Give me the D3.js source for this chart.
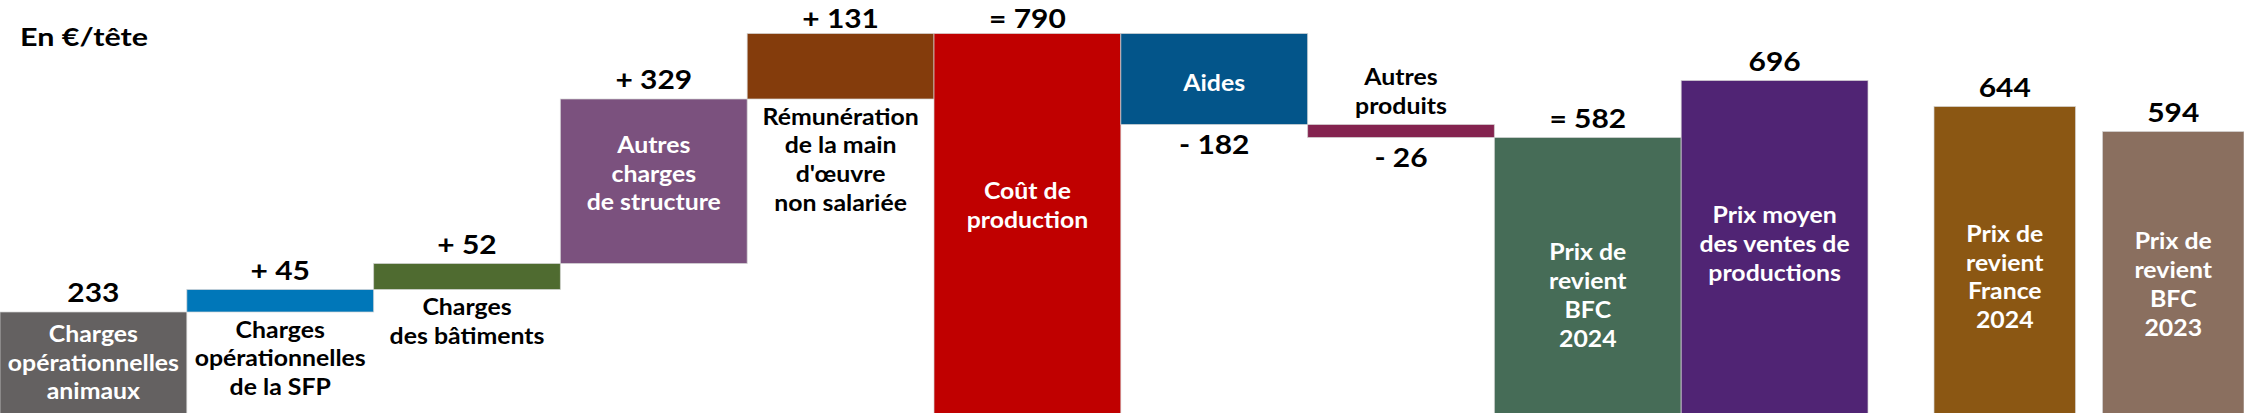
<!DOCTYPE html>
<html><head><meta charset="utf-8">
<script src="https://cdn.jsdelivr.net/npm/d3@7"></script>
<style>html,body{margin:0;padding:0;background:#fff;overflow:hidden}</style>
</head><body><svg id="chart" width="2244" height="413"></svg>
<script>
// ---- data ----
const categories = [
  "Charges opérationnelles animaux",
  "Charges opérationnelles de la SFP",
  "Charges des bâtiments",
  "Autres charges de structure",
  "Rémunération de la main d'œuvre non salariée",
  "Coût de production",
  "Aides",
  "Autres produits",
  "Prix de revient BFC 2024",
  "Prix moyen des ventes de productions"
];
const values = [233, 45, 52, 329, 131, 790, -182, -26, 582, 696];
const kinds = ["total","delta","delta","delta","delta","total","delta","delta","total","total"];
const valueLabels = ["233","+ 45","+ 52","+ 329","+ 131","= 790","- 182","- 26","= 582","696"];
const categoryLines = [
  ["Charges","opérationnelles","animaux"],
  ["Charges","opérationnelles","de la SFP"],
  ["Charges","des bâtiments"],
  ["Autres","charges","de structure"],
  ["Rémunération","de la main","d'œuvre","non salariée"],
  ["Coût de","production"],
  ["Aides"],
  ["Autres","produits"],
  ["Prix de","revient","BFC","2024"],
  ["Prix moyen","des ventes de","productions"]
];
const comparisonCategories = ["Prix de revient France 2024","Prix de revient BFC 2023"];
const comparisonValues = [644, 594];
const comparisonValueLabels = ["644","594"];
const comparisonLines = [["Prix de","revient","France","2024"],["Prix de","revient","BFC","2023"]];
const unitLabel = "En €/tête";

// ---- style / layout ----
const colors = ["#646161","#0077B9","#4F6B30","#7B517E","#843C0C","#C00000","#03558A","#84234F","#466C57","#502474"];
const comparisonColors = ["#8B5713","#8A6F5F"];
const labelPlacement = ["inside","below","below","inside","below","inside","inside","above","inside","inside"];
const insideNudge = [0,0,0,-8,0,-18,4,0,20,-3];
const comparisonNudge = [17,12];

const W = 2244, H = 413;
const FONT = "Lato, 'Open Sans', sans-serif";
const valueSize = 26.5, valueSx = 1.13;
const labelSize = 23, labelSx = 1.08, lineH = 28.7;
const titleSize = 25, titleSx = 1.22;

const svg = d3.select("#chart");

const y = d3.scaleLinear().domain([0, 790]).range([428.5, 33.5]);
const x = d3.scaleBand().domain(categories).range([0, 1868]).paddingInner(0).paddingOuter(0);
const x2 = d3.scaleBand().domain(comparisonCategories).range([1934, 2244]).paddingInner(0.16).paddingOuter(0);

let running = 0;
const bars = categories.map((c, i) => {
  let a, b;
  if (kinds[i] === "total") { a = 0; b = values[i]; running = values[i]; }
  else { a = running; b = running + values[i]; running = b; }
  return {c, i, lo: Math.min(a,b), hi: Math.max(a,b), neg: values[i] < 0,
          x: x(c), w: x.bandwidth(), color: colors[i], vlabel: valueLabels[i],
          lines: categoryLines[i], place: labelPlacement[i], nudge: insideNudge[i]};
});
comparisonCategories.forEach((c, j) => {
  bars.push({c, i: bars.length, lo: 0, hi: comparisonValues[j], neg: false,
    x: x2(c), w: x2.bandwidth(), color: comparisonColors[j], vlabel: comparisonValueLabels[j],
    lines: comparisonLines[j], place: "inside", nudge: comparisonNudge[j]});
});

svg.selectAll("rect.bar").data(bars).join("rect")
  .attr("class","bar")
  .attr("x", d => d.x).attr("width", d => d.w)
  .attr("y", d => y(d.hi)).attr("height", d => y(d.lo) - y(d.hi))
  .attr("fill", d => d.color)
  .attr("stroke", "#d6d6d6").attr("stroke-width", 1).attr("stroke-opacity", 0.7);

function addText(str, cx, by, size, sx, fill, anchor) {
  svg.append("text")
    .attr("transform", `translate(${cx},${by}) scale(${sx},1)`)
    .attr("x", 0).attr("y", 0)
    .attr("font-family", FONT).attr("font-weight", 700)
    .attr("font-size", size).attr("fill", fill)
    .attr("text-anchor", anchor || "middle")
    .text(str);
}

// value labels
bars.forEach(d => {
  const by = d.neg ? y(d.lo) + 29 : Math.max(y(d.hi) - 10, 28);
  addText(d.vlabel, d.x + d.w/2, by, valueSize, valueSx, "#000");
});

// category labels
bars.forEach(d => {
  const n = d.lines.length;
  const top = y(d.hi), bot = Math.min(y(d.lo), H);
  let first, fill;
  if (d.place === "inside") {
    const c = (top + bot)/2 + d.nudge;
    first = c - (n-1)*lineH/2 + labelSize*0.36;
    fill = "#fff";
  } else if (d.place === "below") {
    first = bot + 25.5; fill = "#000";
  } else {
    first = top - 11 - (n-1)*lineH; fill = "#000";
  }
  d.lines.forEach((ln, k) => addText(ln, d.x + d.w/2, first + k*lineH, labelSize, labelSx, fill));
});

addText(unitLabel, 20, 46, titleSize, titleSx, "#000", "start");
</script></body></html>
